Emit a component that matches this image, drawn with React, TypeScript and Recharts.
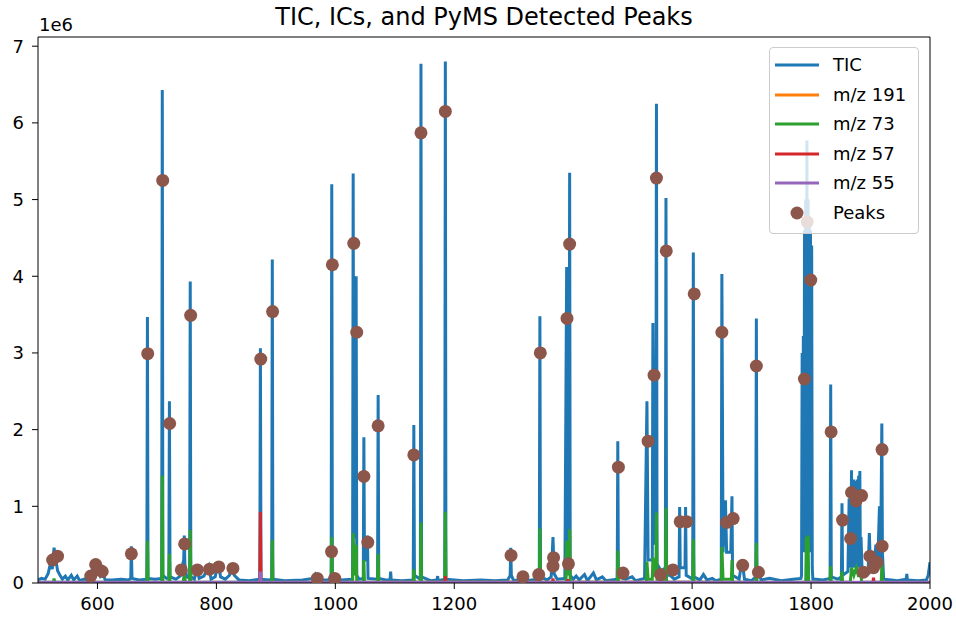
import React from 'react';
import { ComposedChart, Line, Scatter, XAxis, YAxis, Legend, ReferenceLine } from 'recharts';

// retention time (s) vs intensity (x1e6)
const ticPoints: [number, number][] = [
  [500, 0.04], [506, 0.06], [512, 0.05], [517, 0.12], [521, 0.26], [524, 0.18], [527, 0.46], [530, 0.3],
  [533, 0.16], [537, 0.1], [541, 0.05], [546, 0.09], [550, 0.04], [556, 0.1], [560, 0.04], [566, 0.09],
  [570, 0.03], [578, 0.05], [585, 0.04], [589, 0.1], [593, 0.23], [597, 0.15], [601, 0.19], [605, 0.09],
  [609, 0.13], [613, 0.04], [625, 0.04], [640, 0.05], [652, 0.04], [656, 0.06], [657, 0.48], [658, 0.06],
  [670, 0.04], [683, 0.05], [684, 3.47], [685, 0.06], [697, 0.05], [708, 0.06], [709, 6.43], [710, 0.1],
  [716, 0.06], [720, 0.07], [721, 2.37], [722, 0.08], [732, 0.05], [739, 0.09], [742, 0.2], [745, 0.3],
  [746, 0.62], [747, 0.25], [750, 0.08], [755, 0.06], [756, 3.93], [757, 0.08], [763, 0.05], [767, 0.2],
  [771, 0.06], [779, 0.09], [787, 0.22], [791, 0.05], [798, 0.08], [803, 0.27], [807, 0.08], [815, 0.05],
  [822, 0.1], [826, 0.24], [830, 0.1], [838, 0.04], [855, 0.03], [873, 0.05], [874, 3.06], [875, 0.05],
  [888, 0.04], [893, 0.05], [894, 4.22], [895, 0.05], [915, 0.03], [945, 0.04], [962, 0.06], [966, 0.11],
  [970, 0.04], [988, 0.04], [993, 0.08], [994, 5.2], [995, 0.12], [999, 0.08], [1010, 0.04], [1029, 0.05],
  [1030, 5.34], [1031, 0.6], [1034, 0.6], [1035, 4.0], [1036, 0.1], [1040, 0.05], [1047, 0.06], [1048, 1.9],
  [1049, 0.3], [1053, 0.3], [1054, 0.62], [1055, 0.06], [1071, 0.05], [1072, 2.45], [1073, 0.06], [1085, 0.04],
  [1092, 0.04], [1093, 0.15], [1094, 0.04], [1112, 0.03], [1131, 0.04], [1132, 2.06], [1133, 0.1], [1143, 0.05],
  [1144, 6.77], [1145, 0.08], [1160, 0.03], [1171, 0.04], [1172, 0.09], [1173, 0.03], [1184, 0.05], [1185, 6.8],
  [1186, 0.05], [1215, 0.03], [1245, 0.04], [1268, 0.03], [1290, 0.04], [1294, 0.1], [1295, 0.46], [1296, 0.1],
  [1300, 0.03], [1314, 0.05], [1322, 0.03], [1339, 0.05], [1343, 0.12], [1344, 3.48], [1345, 0.08], [1356, 0.04],
  [1363, 0.08], [1366, 0.6], [1368, 0.12], [1373, 0.05], [1386, 0.06], [1389, 4.12], [1391, 0.5], [1393, 0.8],
  [1394, 5.35], [1395, 0.1], [1400, 0.05], [1405, 0.09], [1410, 0.04], [1419, 0.11], [1424, 0.03], [1434, 0.13],
  [1439, 0.04], [1449, 0.08], [1455, 0.03], [1474, 0.05], [1475, 1.85], [1476, 0.08], [1488, 0.05], [1499, 0.08],
  [1505, 0.03], [1520, 0.06], [1524, 2.37], [1526, 0.3], [1533, 0.3], [1534, 3.39], [1536, 0.5], [1539, 0.8],
  [1540, 6.25], [1541, 0.25], [1548, 0.15], [1555, 0.2], [1556, 5.02], [1557, 0.1], [1563, 0.1], [1570, 0.05],
  [1578, 0.08], [1579, 0.99], [1580, 0.2], [1588, 0.2], [1589, 0.99], [1590, 0.1], [1601, 0.05], [1602, 4.31],
  [1603, 0.08], [1613, 0.04], [1619, 0.11], [1625, 0.04], [1634, 0.06], [1640, 0.03], [1649, 0.05], [1650, 4.03],
  [1652, 0.4], [1656, 1.08], [1658, 0.4], [1665, 0.4], [1667, 1.13], [1668, 0.1], [1679, 0.05], [1684, 0.3],
  [1688, 0.05], [1700, 0.03], [1707, 0.08], [1708, 3.45], [1709, 0.1], [1712, 0.15], [1716, 0.04], [1730, 0.06],
  [1750, 0.03], [1770, 0.05], [1783, 0.06], [1784, 0.1], [1785, 3.0], [1786, 0.4], [1787, 3.22], [1788, 0.5],
  [1789, 4.6], [1790, 0.4], [1791, 5.0], [1792, 0.5], [1793, 5.77], [1794, 0.4], [1795, 5.0], [1796, 0.5],
  [1797, 4.7], [1798, 0.4], [1799, 4.6], [1800, 0.4], [1801, 4.4], [1802, 0.2], [1803, 0.05], [1808, 0.05],
  [1820, 0.04], [1832, 0.06], [1833, 2.59], [1834, 0.08], [1845, 0.05], [1851, 0.08], [1852, 1.04], [1853, 0.1],
  [1862, 0.15], [1864, 1.1], [1865, 0.2], [1866, 1.2], [1867, 0.2], [1868, 1.47], [1869, 0.2], [1870, 1.3],
  [1871, 0.2], [1872, 1.35], [1873, 0.2], [1874, 1.33], [1875, 0.2], [1876, 1.3], [1877, 0.2], [1878, 1.35],
  [1879, 0.2], [1880, 1.4], [1881, 0.2], [1882, 1.46], [1883, 0.2], [1884, 0.6], [1886, 0.1], [1890, 0.1],
  [1896, 0.15], [1898, 0.65], [1900, 0.15], [1906, 0.2], [1909, 0.5], [1912, 0.2], [1915, 1.0], [1917, 0.3],
  [1919, 2.08], [1920, 0.4], [1922, 0.05], [1935, 0.04], [1945, 0.03], [1960, 0.05], [1961, 0.12], [1962, 0.04],
  [1980, 0.03], [1994, 0.04], [1997, 0.1], [2000, 0.27],
];

const mz191Points: [number, number][] = [
  [500, 0], [1185, 0.01], [1540, 0.01], [2000, 0],
];

const mz73Points: [number, number][] = [
  [500, 0.01], [526, 0.01], [527, 0.06], [528, 0.01], [683, 0.01], [684, 0.55], [685, 0.01], [708, 0.01],
  [709, 1.4], [710, 0.01], [720, 0.01], [721, 0.38], [722, 0.01], [744, 0.01], [746, 0.12], [748, 0.01],
  [755, 0.01], [756, 0.69], [757, 0.01], [893, 0.01], [894, 0.56], [895, 0.01], [993, 0.01], [994, 0.6],
  [995, 0.01], [1029, 0.01], [1030, 0.65], [1032, 0.1], [1035, 0.5], [1036, 0.01], [1047, 0.01], [1048, 0.3],
  [1049, 0.01], [1071, 0.01], [1072, 0.38], [1073, 0.01], [1131, 0.01], [1132, 0.18], [1133, 0.01], [1143, 0.01],
  [1144, 0.79], [1145, 0.01], [1184, 0.01], [1185, 0.93], [1186, 0.01], [1343, 0.01], [1344, 0.71], [1345, 0.01],
  [1388, 0.01], [1389, 0.55], [1391, 0.1], [1393, 0.2], [1394, 0.7], [1395, 0.01], [1474, 0.01], [1475, 0.42],
  [1476, 0.01], [1523, 0.01], [1524, 0.28], [1526, 0.05], [1533, 0.05], [1534, 0.33], [1536, 0.1], [1539, 0.1],
  [1540, 0.92], [1541, 0.05], [1555, 0.05], [1556, 0.98], [1557, 0.01], [1601, 0.01], [1602, 0.57], [1603, 0.01],
  [1649, 0.01], [1650, 0.47], [1652, 0.05], [1666, 0.05], [1667, 0.3], [1668, 0.01], [1707, 0.01], [1708, 0.52],
  [1709, 0.01], [1791, 0.01], [1792, 0.6], [1794, 0.3], [1795, 0.62], [1796, 0.01], [1832, 0.01], [1833, 0.22],
  [1834, 0.01], [1850, 0.01], [1852, 0.15], [1853, 0.01], [1866, 0.01], [1868, 0.2], [1872, 0.1], [1876, 0.2],
  [1880, 0.08], [1883, 0.2], [1885, 0.01], [1918, 0.01], [1919, 0.25], [1920, 0.01], [2000, 0.01],
];

const mz57Points: [number, number][] = [
  [500, 0.003], [873, 0.003], [874, 0.93], [875, 0.003], [1184, 0.003], [1185, 0.09], [1186, 0.003],
  [1365, 0.003], [1366, 0.06], [1367, 0.003], [1390, 0.003], [1391, 0.05], [1392, 0.003], [1904, 0.003],
  [1905, 0.07], [1906, 0.003], [2000, 0.003],
];

const mz55Points: [number, number][] = [
  [500, 0.01], [873, 0.01], [874, 0.15], [875, 0.01], [2000, 0.01],
];

const peakPoints: [number, number][] = [
  [524.6, 0.3], [532.8, 0.35], [588.7, 0.09], [597, 0.24], [602.8, 0.17], [608, 0.15], [657, 0.38],
  [684.5, 2.99], [709.7, 5.25], [721.4, 2.08], [741, 0.17], [746.6, 0.51], [756.7, 3.49], [768, 0.17],
  [788.6, 0.18], [804, 0.21], [827.8, 0.19], [874.6, 2.92], [894.5, 3.54], [969.6, 0.06], [993.6, 0.41],
  [995, 4.15], [999, 0.06], [1031, 4.43], [1036, 3.27], [1048, 1.39], [1054.6, 0.53], [1072, 2.05],
  [1132, 1.67], [1144, 5.87], [1185, 6.15], [1295.5, 0.36], [1315.5, 0.08], [1342, 0.11], [1344.7, 3.0],
  [1366, 0.22], [1367, 0.33], [1389.6, 3.45], [1392, 0.25], [1394, 4.42], [1476, 1.51], [1483.7, 0.13],
  [1526, 1.85], [1536, 2.71], [1540, 5.28], [1547, 0.11], [1556.5, 4.33], [1567.7, 0.17], [1580, 0.8],
  [1591, 0.8], [1603.5, 3.77], [1650, 3.27], [1658, 0.79], [1669, 0.84], [1685, 0.23], [1708, 2.83],
  [1711.5, 0.14], [1788.8, 2.66], [1793.5, 4.71], [1799.5, 3.95], [1833.7, 1.97], [1853, 0.82],
  [1866.5, 0.58], [1868, 1.18], [1875.7, 1.07], [1885, 1.14], [1888, 0.14], [1899, 0.35], [1905, 0.2],
  [1911, 0.27], [1919.4, 0.48], [1919.4, 1.74],
];

const xTicks = [600, 800, 1000, 1200, 1400, 1600, 1800, 2000];
const yTicks = [0, 1, 2, 3, 4, 5, 6, 7];

const legendItems = [
  { name: 'TIC', color: '#1f77b4', kind: 'line' },
  { name: 'm/z 191', color: '#ff7f0e', kind: 'line' },
  { name: 'm/z 73', color: '#2ca02c', kind: 'line' },
  { name: 'm/z 57', color: '#d62728', kind: 'line' },
  { name: 'm/z 55', color: '#9467bd', kind: 'line' },
  { name: 'Peaks', color: '#8c564b', kind: 'dot' },
];

const Y_MAX = 7.12e6;

const toRows = (pts: [number, number][]) => pts.map(([x, y]) => ({ x, y: y * 1e6 }));

const FONT = '"DejaVu Sans", sans-serif';

const LegendBox = () => (
  <div
    style={{
      width: 150,
      height: 187,
      boxSizing: 'border-box',
      border: '1px solid #cccccc',
      borderRadius: 4,
      background: 'rgba(255,255,255,0.8)',
      position: 'relative',
      fontFamily: FONT,
      fontSize: 18,
      color: '#000',
    }}
  >
    {legendItems.map((item, i) => {
      const cy = 17 + i * 29.6;
      return (
        <div key={item.name}>
          <svg width={50} height={16} style={{ position: 'absolute', left: 4, top: cy - 8 }}>
            {item.kind === 'line' ? (
              <line x1={1} y1={8} x2={45} y2={8} stroke={item.color} strokeWidth={3} />
            ) : (
              <circle cx={23} cy={8} r={6.5} fill={item.color} />
            )}
          </svg>
          <div style={{ position: 'absolute', left: 63, top: cy - 11, lineHeight: '22px', whiteSpace: 'nowrap' }}>
            {item.name}
          </div>
        </div>
      );
    })}
  </div>
);

const App: React.FC = () => {
  const tic = toRows(ticPoints);
  const mz191 = toRows(mz191Points);
  const mz73 = toRows(mz73Points);
  const mz57 = toRows(mz57Points);
  const mz55 = toRows(mz55Points);
  const peaks = toRows(peakPoints);

  return (
    <div style={{ position: 'absolute', left: 0, top: 0, width: 956, height: 619, background: '#fff', fontFamily: FONT }}>
      <div
        style={{
          position: 'absolute', left: 38, top: 3, width: 892, textAlign: 'center',
          fontSize: 24, lineHeight: '28px', color: '#000',
        }}
      >
        TIC, ICs, and PyMS Detected Peaks
      </div>
      <div style={{ position: 'absolute', left: 39, top: 15, fontSize: 18, lineHeight: '20px', color: '#000' }}>1e6</div>
      <ComposedChart width={956} height={619} margin={{ top: 37, right: 26, bottom: 6, left: 4 }}>
        <XAxis
          dataKey="x"
          type="number"
          domain={[500, 2000]}
          ticks={xTicks}
          allowDataOverflow
          height={30}
          tickSize={6}
          tickMargin={8}
          stroke="#000"
          tick={{ fill: '#000', fontSize: 18, fontFamily: FONT }}
        />
        <YAxis
          dataKey="y"
          type="number"
          domain={[0, Y_MAX]}
          ticks={yTicks.map((t) => t * 1e6)}
          allowDataOverflow
          width={34}
          tickSize={6}
          tickMargin={8}
          stroke="#000"
          tickFormatter={(v: number) => `${Math.round(v / 1e6)}`}
          tick={{ fill: '#000', fontSize: 18, fontFamily: FONT }}
        />
        <Line data={tic} dataKey="y" name="TIC" stroke="#1f77b4" strokeWidth={3} dot={false} activeDot={false} isAnimationActive={false} />
        <Line data={mz191} dataKey="y" name="m/z 191" stroke="#ff7f0e" strokeWidth={3} dot={false} activeDot={false} isAnimationActive={false} />
        <Line data={mz73} dataKey="y" name="m/z 73" stroke="#2ca02c" strokeWidth={3} dot={false} activeDot={false} isAnimationActive={false} />
        <Line data={mz57} dataKey="y" name="m/z 57" stroke="#d62728" strokeWidth={3} dot={false} activeDot={false} isAnimationActive={false} />
        <Line data={mz55} dataKey="y" name="m/z 55" stroke="#9467bd" strokeWidth={3} dot={false} activeDot={false} isAnimationActive={false} />
        <Scatter
          data={peaks}
          dataKey="y"
          name="Peaks"
          fill="#8c564b"
          isAnimationActive={false}
          shape={(p: any) => <circle cx={p.cx} cy={p.cy} r={6.5} fill="#8c564b" />}
        />
        {/* top and right spines of the axes box */}
        <ReferenceLine y={Y_MAX} stroke="#000" ifOverflow="visible" />
        <ReferenceLine x={2000} stroke="#000" ifOverflow="visible" />
        <Legend
          layout="vertical"
          align="center"
          verticalAlign="middle"
          wrapperStyle={{ left: 769, top: 47, width: 150, height: 187 }}
          content={() => <LegendBox />}
        />
      </ComposedChart>
    </div>
  );
};

export default App;
